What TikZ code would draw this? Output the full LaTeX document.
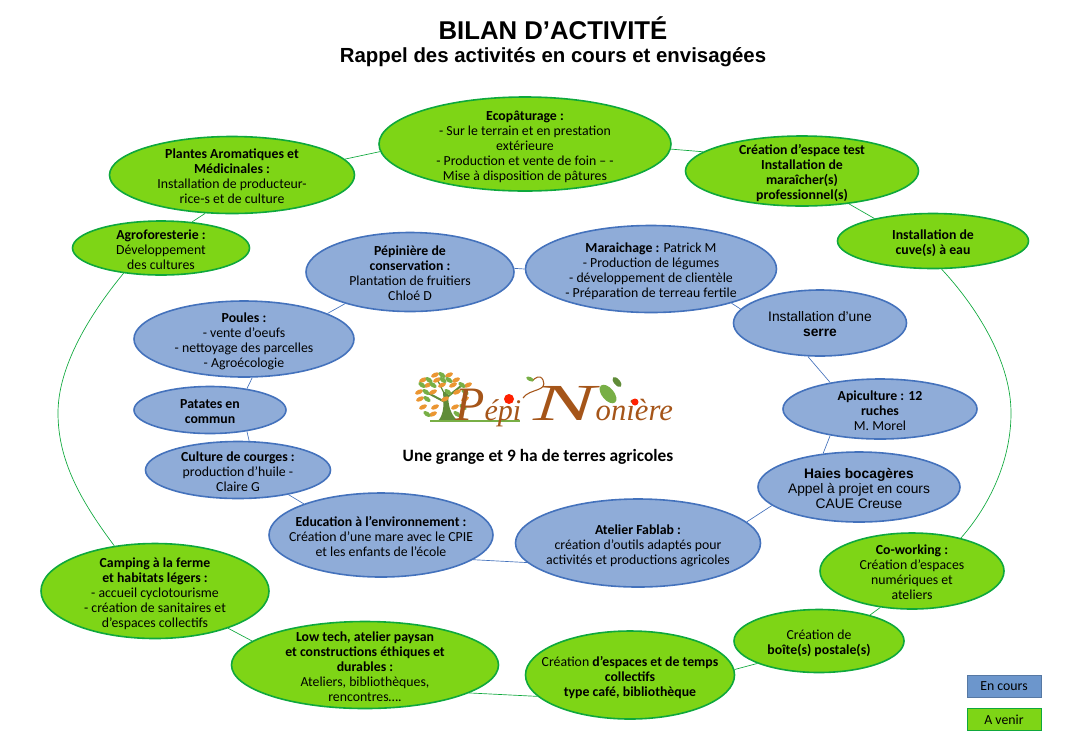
\documentclass[tikz,border=0pt]{standalone}
\usepackage{fontspec}
\setmainfont{Carlito}
\newfontfamily\arialfont{Liberation Sans}
\newfontfamily\logofont{Liberation Serif}
\usetikzlibrary{shapes.geometric, positioning}
\definecolor{greenfill}{RGB}{126, 213, 22}
\definecolor{greenline}{RGB}{14, 168, 60}
\definecolor{bluefill}{RGB}{143, 172, 216}
\definecolor{blueline}{RGB}{68, 114, 188}
\definecolor{legendblue}{RGB}{108, 150, 204}
\definecolor{logobrown}{RGB}{165, 85, 25}
\definecolor{logoorange}{RGB}{235, 150, 50}
\definecolor{logogreen}{RGB}{120, 175, 70}
\newcommand{\ovaltxt}[1]{\makebox[0pt]{\smash{\raisebox{-.48em}{\begin{tabular}{@{}c@{}}#1\end{tabular}}}}}
\tikzset{
  oval/.style 2 args={ellipse, minimum width=#1*0.75pt, minimum height=#2*0.75pt, inner sep=0pt, line width=1.2pt, font=\fontsize{10.35}{11.25}\selectfont},
  greenoval/.style 2 args={oval={#1}{#2}, draw=greenline, fill=greenfill},
  blueoval/.style 2 args={oval={#1}{#2}, draw=blueline, fill=bluefill},
  greenlink/.style={draw=greenline, line width=0.5pt},
  bluelink/.style={draw=blueline, line width=0.5pt},
  legendbox/.style={minimum width=55.5pt, minimum height=16.5pt, inner sep=0pt, line width=0.5pt, font=\fontsize{10.35}{11.25}\selectfont}
}
\begin{document}
\begin{tikzpicture}[x=0.75pt, y=-0.75pt]
  \useasboundingbox (0,0) rectangle (1077,751);

  % Title
  \node[font=\arialfont\bfseries\fontsize{19.3}{22}\selectfont] (title) at (553, 28) {BILAN D’ACTIVITÉ};
  \node[font=\arialfont\bfseries\fontsize{15.3}{17}\selectfont] (subtitle) at (553, 57) {Rappel des activités en cours et envisagées};

  % Outer ring, to come
  \node[greenoval={292}{94}] (ecop) at (525, 144) {\ovaltxt{\textbf{Ecopâturage :}\\- Sur le terrain et en prestation\\extérieure\\- Production et vente de foin – -\\Mise à disposition de pâtures}};
  \node[greenoval={245}{77}] (plantes) at (232, 175) {\ovaltxt{\textbf{Plantes Aromatiques et}\\\textbf{Médicinales :}\\Installation de producteur-\\rice-s et de culture}};
  \node[greenoval={177}{54}] (agro) at (161, 248) {\ovaltxt{\textbf{Agroforesterie :}\\Développement\\des cultures}};
  \node[greenoval={233}{70}] (test) at (802, 171) {\ovaltxt{\textbf{Création d’espace test}\\\textbf{Installation de}\\\textbf{maraîcher(s)}\\\textbf{professionnel(s)}}};
  \node[greenoval={191}{55}] (cuve) at (933, 241) {\ovaltxt{\textbf{Installation de}\\\textbf{cuve(s) à eau}}};
  \node[greenoval={228}{95}] (camping) at (155, 591) {\ovaltxt{\textbf{Camping à la ferme}\\\textbf{et habitats légers :}\\- accueil cyclotourisme\\- création de sanitaires et\\d’espaces collectifs}};
  \node[greenoval={267}{87}] (lowtech) at (365, 665) {\ovaltxt{\textbf{Low tech, atelier paysan}\\\textbf{et constructions éthiques et}\\\textbf{durables :}\\Ateliers, bibliothèques,\\rencontres….}};
  \node[greenoval={209}{88}] (collectif) at (630, 675) {\ovaltxt{Création \textbf{d’espaces et de temps}\\\textbf{collectifs}\\\textbf{type café, bibliothèque}}};
  \node[greenoval={170}{63}] (boite) at (819, 641) {\ovaltxt{Création de\\\textbf{boîte(s) postale(s)}}};
  \node[greenoval={184}{76}] (cowork) at (912, 571) {\ovaltxt{\textbf{Co-working :}\\Création d’espaces\\numériques et\\ateliers}};

  % Inner ring, under way
  \node[blueoval={208}{79}] (pepi) at (410, 272) {\ovaltxt{\textbf{Pépinière de}\\\textbf{conservation :}\\Plantation de fruitiers\\Chloé D}};
  \node[blueoval={251}{87}] (marai) at (651, 269) {\ovaltxt{\textbf{Maraichage :} Patrick M\\- Production de légumes\\- développement de clientèle\\- Préparation de terreau fertile}};
  \node[blueoval={173}{66}] (serre) at (820, 323) {\ovaltxt{\arialfont Installation d’une\\\arialfont\bfseries serre}};
  \node[blueoval={194}{60}] (api) at (880, 409) {\ovaltxt{\textbf{Apiculture : 12}\\\textbf{ruches}\\M. Morel}};
  \node[blueoval={202}{70}] (haies) at (859, 487) {\ovaltxt{\arialfont\bfseries Haies bocagères\\\arialfont Appel à projet en cours\\\arialfont CAUE Creuse}};
  \node[blueoval={245}{88}] (fablab) at (638, 543) {\ovaltxt{\textbf{Atelier Fablab :}\\création d’outils adaptés pour\\activités et productions agricoles}};
  \node[blueoval={224}{84}] (edu) at (381, 535) {\ovaltxt{\textbf{Education à l’environnement :}\\Création d’une mare avec le CPIE\\et les enfants de l’école}};
  \node[blueoval={185}{57}] (courges) at (238, 470) {\ovaltxt{\textbf{Culture de courges :}\\production d’huile -\\Claire G}};
  \node[blueoval={152}{47}] (patates) at (210, 410) {\ovaltxt{\textbf{Patates en}\\\textbf{commun}}};
  \node[blueoval={220}{76}] (poules) at (244, 339) {\ovaltxt{\textbf{Poules :}\\- vente d’oeufs\\- nettoyage des parcelles\\- Agroécologie}};

  % Links, outer ring
  \coordinate (arcwest) at (58, 413);
  \coordinate (arceast) at (1011, 413);
  \draw[greenlink] (plantes.8) -- (ecop.183);
  \draw[greenlink] (plantes.235) -- (agro.40);
  \draw[greenlink] (ecop.358) -- (test.169);
  \draw[greenlink] (test.325) -- (cuve.159);
  \draw[greenlink] (cuve.287) .. controls (975, 305) and (1011, 360) .. (arceast) .. controls (1011, 460) and (990, 505) .. (cowork.34);
  \draw[greenlink] (cowork.229) -- (boite.27);
  \draw[greenlink] (boite.200) -- (collectif.3);
  \draw[greenlink] (collectif.193) -- (lowtech.345);
  \draw[greenlink] (lowtech.168) -- (camping.333);
  \draw[greenlink] (agro.214) .. controls (85, 320) and (58, 370) .. (arcwest) .. controls (58, 460) and (80, 500) .. (camping.132);

  % Links, inner ring
  \draw[bluelink] (pepi.2) -- (marai.180);
  \draw[bluelink] (marai.337) -- (serre.170);
  \draw[bluelink] (serre.250) -- (api.152);
  \draw[bluelink] (api.208) -- (haies.137);
  \draw[bluelink] (haies.192) -- (fablab.11);
  \draw[bluelink] (fablab.190) -- (edu.345);
  \draw[bluelink] (edu.158) -- (courges.334);
  \draw[bluelink] (courges.69) -- (patates.330);
  \draw[bluelink] (patates.30) -- (poules.282);
  \draw[bluelink] (poules.17) -- (pepi.206);

  % Logo
  \fill[logogreen!80!black] (438, 421) .. controls (444, 414) and (444, 405) .. (443, 392) -- (448, 392) .. controls (448, 405) and (450, 414) .. (458, 421) -- cycle;
  \draw[logogreen!80!black, line width=1.5pt] (445, 402) -- (428, 393);
  \draw[logogreen!80!black, line width=1.5pt] (446, 398) -- (461, 386);
  \draw[logogreen!80!black, line width=1pt] (445, 395) -- (438, 381);
  \draw[logogreen, line width=1pt] (430, 421) -- (520, 421);
  \foreach \lx/\ly in {435/375, 449/375, 423/380, 437/380, 456/380, 428/385, 442/385, 453/385, 468/385, 419/392, 433/392, 457/392, 420/399, 445/399, 465/399, 423/407, 435/407, 455/407, 433/414}
    \fill[logoorange, rotate around={25:(\lx,\ly)}] (\lx, \ly) ellipse (4.2 and 2.2);
  \foreach \lx/\ly in {442/375, 429/380, 443/380, 449/380, 422/385, 433/385, 462/385, 426/392, 448/392, 465/392, 427/399, 463/407, 427/414, 457/414}
    \fill[logogreen, rotate around={-35:(\lx,\ly)}] (\lx, \ly) ellipse (4.2 and 2.2);
  \node[anchor=base west, inner sep=0pt, text=logobrown, font=\logofont\itshape] (pepilogo) at (455, 420) {{\fontsize{36}{36}\selectfont P}{\fontsize{22.5}{22.5}\selectfont épi}};
  \node[anchor=base west, inner sep=0pt, text=logobrown, font=\logofont\itshape] (nonlogo) at (533, 420) {{\fontsize{39}{39}\selectfont\scalebox{1.8}[1]{N}}{\fontsize{23}{23}\selectfont onière}};
  \draw[logobrown, line width=0.8pt] (523, 398) .. controls (530, 388) and (548, 392) .. (543, 380) .. controls (540, 374) and (535, 378) .. (532, 381);
  \fill[logogreen, rotate around={-25:(530,379)}] (530, 379) ellipse (4 and 2);
  \fill[logogreen, rotate around={-50:(608,394)}] (608, 394) ellipse (11 and 6);
  \fill[logogreen!80!black, rotate around={-50:(617,382)}] (617, 382) ellipse (6 and 3);
  \fill[red!75!orange] (509, 399) circle (5);
  \fill[red!75!orange] (635, 402) circle (3.5);
  \node[font=\bfseries\fontsize{13}{15}\selectfont] (grange) at (538, 457) {Une grange et 9 ha de terres agricoles};

  % Legend
  \node[legendbox, draw=legendblue!80!black, fill=legendblue] (encours) at (1004, 686) {En cours};
  \node[legendbox, draw=greenline, fill=greenfill] (avenir) at (1004, 719.5) {A venir};
\end{tikzpicture}
\end{document}
